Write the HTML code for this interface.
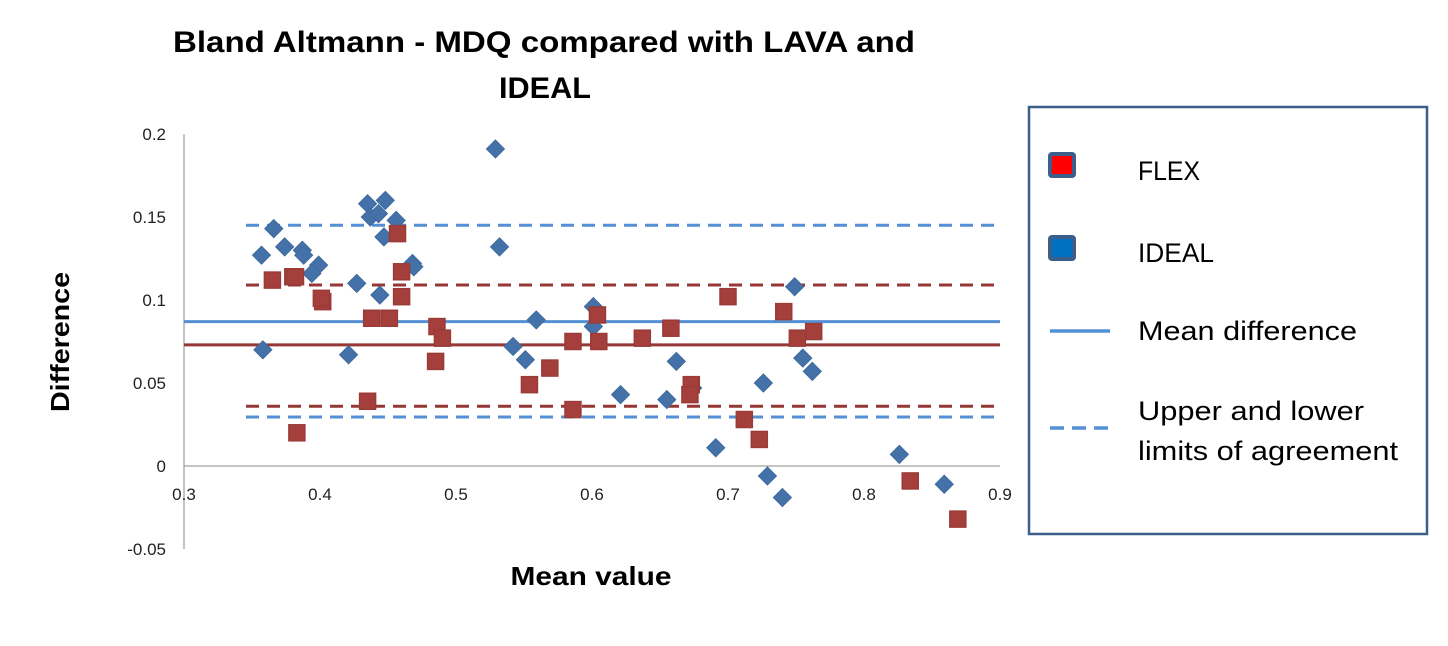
<!DOCTYPE html>
<html><head><meta charset="utf-8"><style>
body{margin:0;background:#fff;width:1448px;height:641px;overflow:hidden;font-family:"Liberation Sans",sans-serif}
</style></head><body>
<svg id="chart" width="1448" height="641" xmlns="http://www.w3.org/2000/svg" font-family="Liberation Sans, sans-serif">
<text x="544" y="52" text-anchor="middle" font-size="30" font-weight="bold" textLength="742" lengthAdjust="spacingAndGlyphs">Bland Altmann - MDQ compared with LAVA and</text>
<text x="545" y="98" text-anchor="middle" font-size="30" font-weight="bold" textLength="92" lengthAdjust="spacingAndGlyphs">IDEAL</text>
<text transform="translate(69,342) rotate(-90)" text-anchor="middle" font-size="26" font-weight="bold" textLength="140" lengthAdjust="spacingAndGlyphs">Difference</text>
<text x="591" y="585" text-anchor="middle" font-size="26" font-weight="bold" textLength="161" lengthAdjust="spacingAndGlyphs">Mean value</text>
<g id="plot"></g>
<g>
<rect x="1029" y="107" width="398" height="427" fill="#fff" stroke="#3B5F8A" stroke-width="2.5"/>
<rect x="1050" y="154" width="24" height="22" rx="2" fill="#FF0000" stroke="#3B5F8A" stroke-width="4"/>
<text x="1138" y="180" font-size="27" textLength="62" lengthAdjust="spacingAndGlyphs">FLEX</text>
<rect x="1050" y="237" width="24" height="22" rx="2" fill="#0070C0" stroke="#3B5F8A" stroke-width="4"/>
<text x="1138" y="262" font-size="27" textLength="76" lengthAdjust="spacingAndGlyphs">IDEAL</text>
<line x1="1050" y1="331" x2="1110" y2="331" stroke="#5590D5" stroke-width="3.5"/>
<text x="1138" y="340" font-size="27" textLength="219" lengthAdjust="spacingAndGlyphs">Mean difference</text>
<line x1="1050" y1="428" x2="1110" y2="428" stroke="#5590D5" stroke-width="3.5" stroke-dasharray="14,8"/>
<text x="1138" y="420" font-size="27" textLength="226" lengthAdjust="spacingAndGlyphs">Upper and lower</text>
<text x="1138" y="460" font-size="27" textLength="260" lengthAdjust="spacingAndGlyphs">limits of agreement</text>
</g>
</svg>
<script>
const xTicks=[0.3,0.4,0.5,0.6,0.7,0.8,0.9];
const yTicks=[-0.05,0,0.05,0.1,0.15,0.2];
const idealX=[.357,.366,.374,.387,.388,.399,.394,.358,.421,.427,.435,.448,.437,.443,.456,.447,.444,.468,.469,.529,.532,.542,.551,.559,.601,.601,.621,.655,.662,.674,.691,.726,.729,.740,.749,.755,.762,.826,.859];
const idealY=[.127,.143,.132,.130,.127,.121,.116,.070,.067,.110,.158,.160,.150,.152,.148,.138,.103,.122,.120,.191,.132,.072,.064,.088,.096,.084,.043,.040,.063,.047,.011,.050,-.006,-.019,.108,.065,.057,.007,-.011];
const flexX=[.365,.380,.382,.402,.401,.438,.451,.457,.460,.460,.486,.490,.485,.435,.383,.554,.604,.605,.586,.569,.586,.637,.658,.673,.672,.700,.741,.751,.763,.712,.723,.834,.869];
const flexY=[.112,.114,.114,.099,.101,.089,.089,.140,.117,.102,.084,.077,.063,.039,.020,.049,.091,.075,.075,.059,.034,.077,.083,.049,.043,.102,.093,.077,.081,.028,.016,-.009,-.032];
const idealStats=[0.087,0.145,0.0295];
const flexStats=[0.073,0.109,0.036];
const sx=v=>184+(v-0.3)*1360;
const sy=v=>466-v*1660;
const NS='http://www.w3.org/2000/svg';
const g=document.getElementById('plot');
function mk(t,a){const e=document.createElementNS(NS,t);for(const k in a)e.setAttribute(k,a[k]);g.appendChild(e);return e;}
let e=mk('line',{x1:184,y1:sy(0.2),x2:184,y2:sy(-0.05),stroke:'#888','stroke-width':1});


e=mk('line',{x1:184,y1:sy(0),x2:1000,y2:sy(0),stroke:'#888','stroke-width':1});


yTicks.forEach(v=>{const t=mk('text',{x:166,y:sy(v)+6,'text-anchor':'end','font-size':17,fill:'#222'});t.textContent=String(v);

});
xTicks.forEach(v=>{const t=mk('text',{x:sx(v),y:500,'text-anchor':'middle','font-size':17,fill:'#222'});t.textContent=String(v);

});
function hline(v,col,dash,name,x0){const l=mk('line',{x1:sx(x0),y1:sy(v),x2:1000,y2:sy(v),stroke:col,'stroke-width':3});if(dash)l.setAttribute('stroke-dasharray','13,8');

}
hline(idealStats[0],'#5590D5',false,'ideal-mean-line',0.3);
hline(flexStats[0],'#953735',false,'flex-mean-line',0.3);
hline(idealStats[1],'#5590D5',true,'ideal-upper-limit',0.3456);
hline(idealStats[2],'#5590D5',true,'ideal-lower-limit',0.3456);
hline(flexStats[1],'#953735',true,'flex-upper-limit',0.3456);
hline(flexStats[2],'#953735',true,'flex-lower-limit',0.3456);
idealX.forEach((v,i)=>{const x=sx(v),y=sy(idealY[i]);const p=mk('polygon',{points:`${x},${y-9} ${x+9},${y} ${x},${y+9} ${x-9},${y}`,fill:'#4472A8',stroke:'#3E6A9E','stroke-width':1});

});
flexX.forEach((v,i)=>{const x=sx(v),y=sy(flexY[i]);const r=mk('rect',{x:x-8,y:y-8,width:16,height:16,fill:'#A53F3C',stroke:'#9A3B38','stroke-width':1.5});

});
</script>
</body></html>
